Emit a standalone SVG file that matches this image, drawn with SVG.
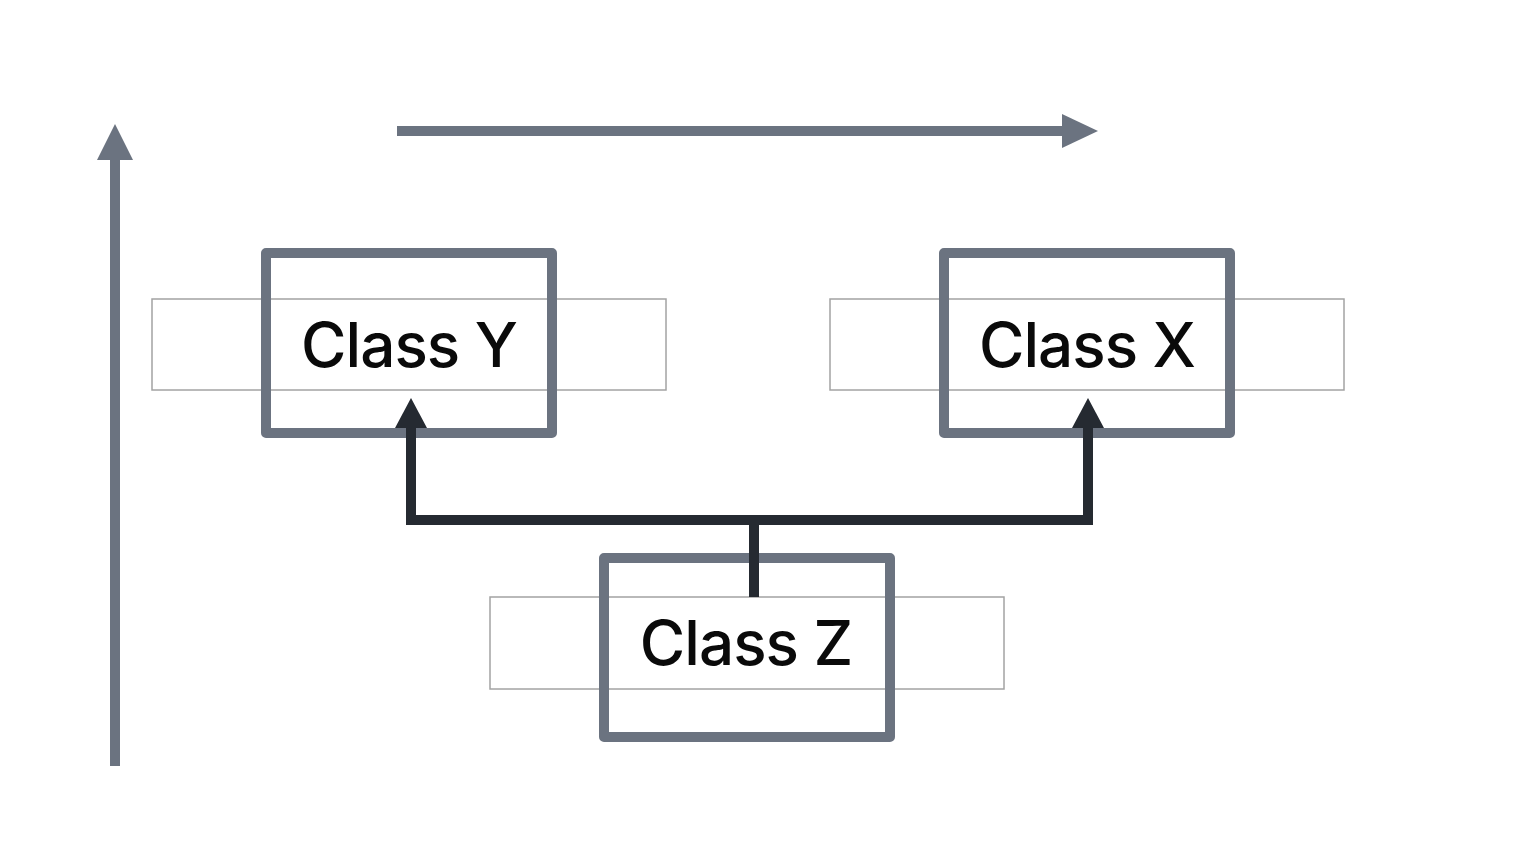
<svg xmlns="http://www.w3.org/2000/svg" width="1520" height="868" viewBox="0 0 1520 868">
<defs>
<style>
.bg{fill:#ffffff}
.thin{fill:#ffffff;stroke:#a3a3a3;stroke-width:1.5}
.thick{fill:none;stroke:#6b7380;stroke-width:10;stroke-linejoin:round}
.axis{fill:none;stroke:#6b7380;stroke-width:10}
.axhead{fill:#6b7380}
.conn{fill:none;stroke:#252a31;stroke-width:10}
.chead{fill:#252a31}
.lbl{font-family:Inter,"Liberation Sans",sans-serif;font-size:62px;font-weight:500;letter-spacing:-1px;fill:#0a0a0a;text-anchor:middle}
</style>
</defs>
<rect class="bg" x="0" y="0" width="1520" height="868"/>
<g id="axes">
<line class="axis" x1="115" y1="766" x2="115" y2="150"/>
<polygon class="axhead" points="115,124 133,160 97,160"/>
<line class="axis" x1="397" y1="131" x2="1070" y2="131"/>
<polygon class="axhead" points="1098,131 1062,114 1062,148"/>
</g>
<g id="classY">
<rect class="thin" x="152" y="299" width="514" height="91"/>
<rect class="thick" x="266" y="253" width="286" height="180"/>
<text class="lbl" x="409" y="367">Class Y</text>
</g>
<g id="classX">
<rect class="thin" x="830" y="299" width="514" height="91"/>
<rect class="thick" x="944" y="253" width="286" height="180"/>
<text class="lbl" x="1087" y="367">Class X</text>
</g>
<g id="classZ">
<rect class="thin" x="490" y="597" width="514" height="92"/>
<rect class="thick" x="604" y="558" width="286" height="179"/>
<text class="lbl" x="746" y="665">Class Z</text>
</g>
<g id="connectors">
<polyline class="conn" points="411,425 411,520 1088,520 1088,425"/>
<line class="conn" x1="754" y1="520" x2="754" y2="597"/>
<polygon class="chead" points="411,398 427,428 395,428"/>
<polygon class="chead" points="1088,398 1104,428 1072,428"/>
</g>
</svg>
